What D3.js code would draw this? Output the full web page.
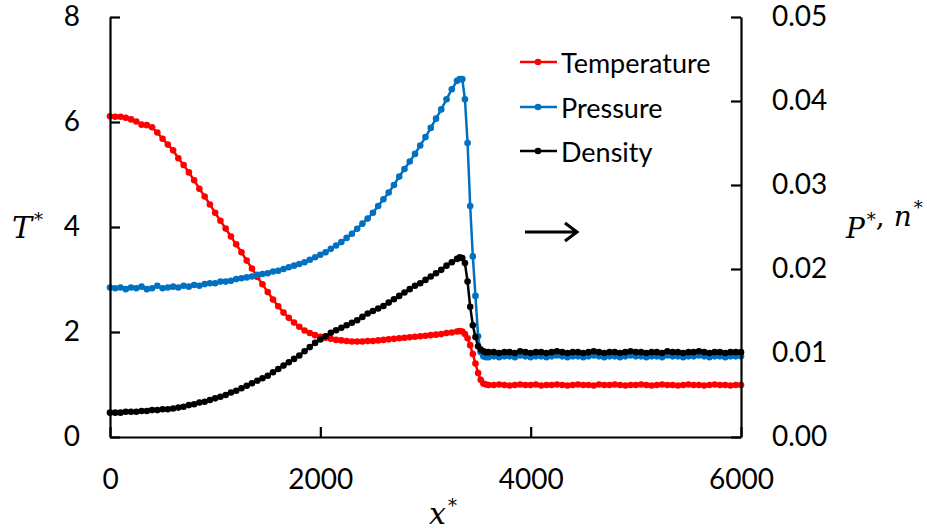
<!doctype html>
<meta charset="utf-8">
<body style="margin:0;background:#fff">

<div id="chart"></div>

<script src="https://d3js.org/d3.v7.min.js"></script>
<script>

// sample positions x*
const xValues = [
  0, 50, 100, 150, 200, 250, 300, 350, 400, 450,
  500, 550, 600, 650, 700, 750, 800, 850, 900, 950,
  1000, 1050, 1100, 1150, 1200, 1250, 1300, 1350, 1400, 1450,
  1500, 1550, 1600, 1650, 1700, 1750, 1800, 1850, 1900, 1950,
  2000, 2050, 2100, 2150, 2200, 2250, 2300, 2350, 2400, 2450,
  2500, 2550, 2600, 2650, 2700, 2750, 2800, 2850, 2900, 2950,
  3000, 3050, 3100, 3150, 3200, 3250, 3300,
  3325, 3350, 3375, 3400, 3425, 3450, 3475, 3500, 3525, 3550, 3575, 3600,
  3650, 3700, 3750, 3800, 3850, 3900, 3950, 4000, 4050, 4100,
  4150, 4200, 4250, 4300, 4350, 4400, 4450, 4500, 4550, 4600,
  4650, 4700, 4750, 4800, 4850, 4900, 4950, 5000, 5050, 5100,
  5150, 5200, 5250, 5300, 5350, 5400, 5450, 5500, 5550, 5600,
  5650, 5700, 5750, 5800, 5850, 5900, 5950, 6000
]

// T* (left axis)
const temperature = [
  6.11, 6.10, 6.10, 6.08, 6.05, 6.01, 5.95, 5.94, 5.90, 5.80,
  5.68, 5.57, 5.46, 5.31, 5.18, 5.04, 4.89, 4.73, 4.58, 4.43,
  4.27, 4.12, 3.97, 3.82, 3.67, 3.52, 3.36, 3.21, 3.05, 2.91,
  2.76, 2.62, 2.49, 2.37, 2.27, 2.18, 2.10, 2.03, 1.98, 1.94,
  1.91, 1.89, 1.87, 1.85, 1.84, 1.83, 1.82, 1.82, 1.82, 1.83,
  1.83, 1.84, 1.85, 1.86, 1.87, 1.88, 1.89, 1.90, 1.91, 1.92,
  1.93, 1.94, 1.95, 1.96, 1.98, 1.99, 2.01,
  2.02, 2.01, 1.96, 1.88, 1.75, 1.58, 1.40, 1.22, 1.09, 1.02, 1.00, 0.99,
  0.99, 1.00, 0.99, 0.98, 0.99, 1.00, 0.99, 0.99, 1.00, 0.98,
  0.99, 0.99, 1.00, 0.99, 0.98, 0.99, 1.00, 0.99, 0.99, 0.98,
  1.00, 0.99, 0.99, 1.00, 0.99, 0.98, 0.99, 0.99, 1.00, 0.99,
  0.98, 0.99, 1.00, 0.99, 0.99, 0.98, 0.99, 1.00, 0.99, 0.99,
  0.98, 0.99, 1.00, 0.99, 0.99, 0.98, 0.99, 0.99
]

// P* (right axis)
const pressure = [
  0.0178, 0.0177, 0.0178, 0.0176, 0.0178, 0.0177, 0.0179, 0.0176, 0.0177, 0.0180,
  0.0177, 0.0178, 0.0179, 0.0178, 0.0180, 0.0179, 0.0181, 0.0180, 0.0182, 0.0183,
  0.0183, 0.0185, 0.0185, 0.0186, 0.0188, 0.0189, 0.0190, 0.0191, 0.0193, 0.0194,
  0.0195, 0.0197, 0.0198, 0.0200, 0.0202, 0.0204, 0.0206, 0.0208, 0.0211, 0.0214,
  0.0217, 0.0220, 0.0224, 0.0228, 0.0232, 0.0237, 0.0242, 0.0248, 0.0254, 0.0260,
  0.0267, 0.0275, 0.0283, 0.0291, 0.0300, 0.0310, 0.0319, 0.0328, 0.0337, 0.0347,
  0.0357, 0.0368, 0.0379, 0.0390, 0.0402, 0.0414, 0.0424,
  0.0426, 0.0426, 0.0402, 0.0350, 0.0275, 0.0215, 0.0168, 0.0120, 0.0101, 0.0096, 0.0095, 0.0095,
  0.0096, 0.0095, 0.0096, 0.0096, 0.0095, 0.0097, 0.0096, 0.0095, 0.0096, 0.0096,
  0.0095, 0.0096, 0.0097, 0.0096, 0.0095, 0.0096, 0.0096, 0.0095, 0.0096, 0.0097,
  0.0096, 0.0095, 0.0096, 0.0096, 0.0095, 0.0096, 0.0097, 0.0096, 0.0096, 0.0095,
  0.0096, 0.0096, 0.0095, 0.0097, 0.0096, 0.0096, 0.0095, 0.0096, 0.0096, 0.0097,
  0.0096, 0.0095, 0.0096, 0.0096, 0.0095, 0.0096, 0.0096, 0.0096
]

// n* (right axis)
const density = [
  0.0029, 0.0029, 0.0029, 0.0030, 0.0030, 0.0030, 0.0031, 0.0031, 0.0032, 0.0032,
  0.0033, 0.0033, 0.0034, 0.0035, 0.0036, 0.0038, 0.0039, 0.0041, 0.0042, 0.0044,
  0.0046, 0.0048, 0.0050, 0.0053, 0.0055, 0.0058, 0.0061, 0.0064, 0.0067, 0.0070,
  0.0073, 0.0077, 0.0081, 0.0085, 0.0089, 0.0093, 0.0097, 0.0102, 0.0107, 0.0112,
  0.0116, 0.0120, 0.0124, 0.0127, 0.0130, 0.0133, 0.0136, 0.0139, 0.0143, 0.0147,
  0.0150, 0.0153, 0.0156, 0.0160, 0.0164, 0.0168, 0.0172, 0.0176, 0.0180, 0.0183,
  0.0187, 0.0191, 0.0195, 0.0199, 0.0204, 0.0208, 0.0212,
  0.0214, 0.0213, 0.0207, 0.0185, 0.0155, 0.0133, 0.0119, 0.0108, 0.0104, 0.0102, 0.0101, 0.0101,
  0.0101, 0.0100, 0.0101, 0.0101, 0.0100, 0.0102, 0.0101, 0.0100, 0.0101, 0.0101,
  0.0100, 0.0101, 0.0102, 0.0101, 0.0100, 0.0101, 0.0101, 0.0100, 0.0101, 0.0102,
  0.0101, 0.0100, 0.0101, 0.0101, 0.0100, 0.0101, 0.0102, 0.0101, 0.0101, 0.0100,
  0.0101, 0.0101, 0.0100, 0.0102, 0.0101, 0.0101, 0.0100, 0.0101, 0.0101, 0.0102,
  0.0101, 0.0100, 0.0101, 0.0101, 0.0100, 0.0101, 0.0101, 0.0101
]

const xTicks = [0, 2000, 4000, 6000]
const leftTicks = [0, 2, 4, 6, 8]
const rightTicks = [0, 0.01, 0.02, 0.03, 0.04, 0.05]

const seriesNames = ["Temperature", "Pressure", "Density"]
const seriesColors = ["#ff0000", "#0070c0", "#000000"]

const W = 927, H = 532
const plot = { left: 110, right: 741, top: 17, bottom: 437 }

const svg = d3.select("#chart").append("svg")
  .attr("width", W)
  .attr("height", H)
  .style("display", "block")

const x = d3.scaleLinear().domain([0, 6000]).range([plot.left, plot.right])
const yL = d3.scaleLinear().domain([0, 8]).range([plot.bottom, plot.top])
const yR = d3.scaleLinear().domain([0, 0.05]).range([plot.bottom, plot.top])

const tickFont = "Lato, 'Open Sans', sans-serif"

function styleAxis (g) {
  g.selectAll("path.domain").attr("stroke", "#000").attr("stroke-width", 2.2)
  g.selectAll(".tick line").attr("stroke", "#000").attr("stroke-width", 2.2)
  g.selectAll(".tick text")
    .attr("fill", "#000")
    .style("font-family", tickFont)
    .style("font-size", "28px")
}

// series (drawn first so axes sit over the ends)
const seriesData = [temperature, pressure, density]
const seriesScale = [yL, yR, yR]

seriesData.forEach((vals, i) => {
  const pts = xValues.map((xv, j) => [xv, vals[j]])
  const ys = seriesScale[i]
  const g = svg.append("g")
  g.append("path")
    .datum(pts)
    .attr("fill", "none")
    .attr("stroke", seriesColors[i])
    .attr("stroke-width", 2.5)
    .attr("d", d3.line().x(d => x(d[0])).y(d => ys(d[1])))
  g.selectAll("circle")
    .data(pts)
    .join("circle")
    .attr("cx", d => x(d[0]))
    .attr("cy", d => ys(d[1]))
    .attr("r", 3.3)
    .attr("fill", seriesColors[i])
})

svg.append("g")
  .attr("transform", "translate(" + plot.left + ",0)")
  .call(d3.axisLeft(yL).tickValues(leftTicks).tickFormat(d3.format("d"))
    .tickSizeInner(-10).tickSizeOuter(0).tickPadding(30))
  .call(styleAxis)

svg.append("g")
  .attr("transform", "translate(" + plot.right + ",0)")
  .call(d3.axisRight(yR).tickValues(rightTicks).tickFormat(d3.format(".2f"))
    .tickSizeInner(-10).tickSizeOuter(0).tickPadding(31))
  .call(styleAxis)

svg.append("g")
  .attr("transform", "translate(0," + plot.bottom + ")")
  .call(d3.axisBottom(x).tickValues(xTicks).tickFormat(d3.format("d"))
    .tickSizeInner(-10).tickSizeOuter(0).tickPadding(32))
  .call(styleAxis)

// axis titles
const mathFont = "'DejaVu Serif', 'Liberation Serif', serif"

function mathLabel (parts, px, py, size) {
  const t = svg.append("text")
    .attr("x", px).attr("y", py)
    .attr("fill", "#000")
    .style("font-family", mathFont)
    .style("font-size", size + "px")
  parts.forEach(p => {
    if (p === "*") {
      t.append("tspan").attr("dy", -12).attr("dx", 2).style("font-size", "18px").style("font-style", "normal").text("*")
      t.append("tspan").attr("dy", 12).text("")
    } else {
      t.append("tspan").style("font-style", p === ", " ? "normal" : "italic").text(p)
    }
  })
  return t
}

mathLabel(["T", "*"], 12, 238, 30)
mathLabel(["x", "*"], 429, 524, 30)
mathLabel(["P", "*", ", ", "n", "*"], 846, 238, 28)

// legend
const legend = svg.append("g")
const legendY = [62, 107, 151]
seriesNames.forEach((name, i) => {
  legend.append("line")
    .attr("x1", 520).attr("x2", 557)
    .attr("y1", legendY[i]).attr("y2", legendY[i])
    .attr("stroke", seriesColors[i]).attr("stroke-width", 2.5)
  legend.append("circle")
    .attr("cx", 538).attr("cy", legendY[i]).attr("r", 3.3)
    .attr("fill", seriesColors[i])
  legend.append("text")
    .attr("x", 561).attr("y", legendY[i])
    .attr("dominant-baseline", "central")
    .attr("fill", "#000")
    .style("font-family", tickFont)
    .style("font-size", "27px")
    .text(name)
})

// arrow
svg.append("path")
  .attr("d", "M525,232 L576,232 M565,223 L577,232 L565,241")
  .attr("fill", "none")
  .attr("stroke", "#000")
  .attr("stroke-width", 3)

</script>
</body>
